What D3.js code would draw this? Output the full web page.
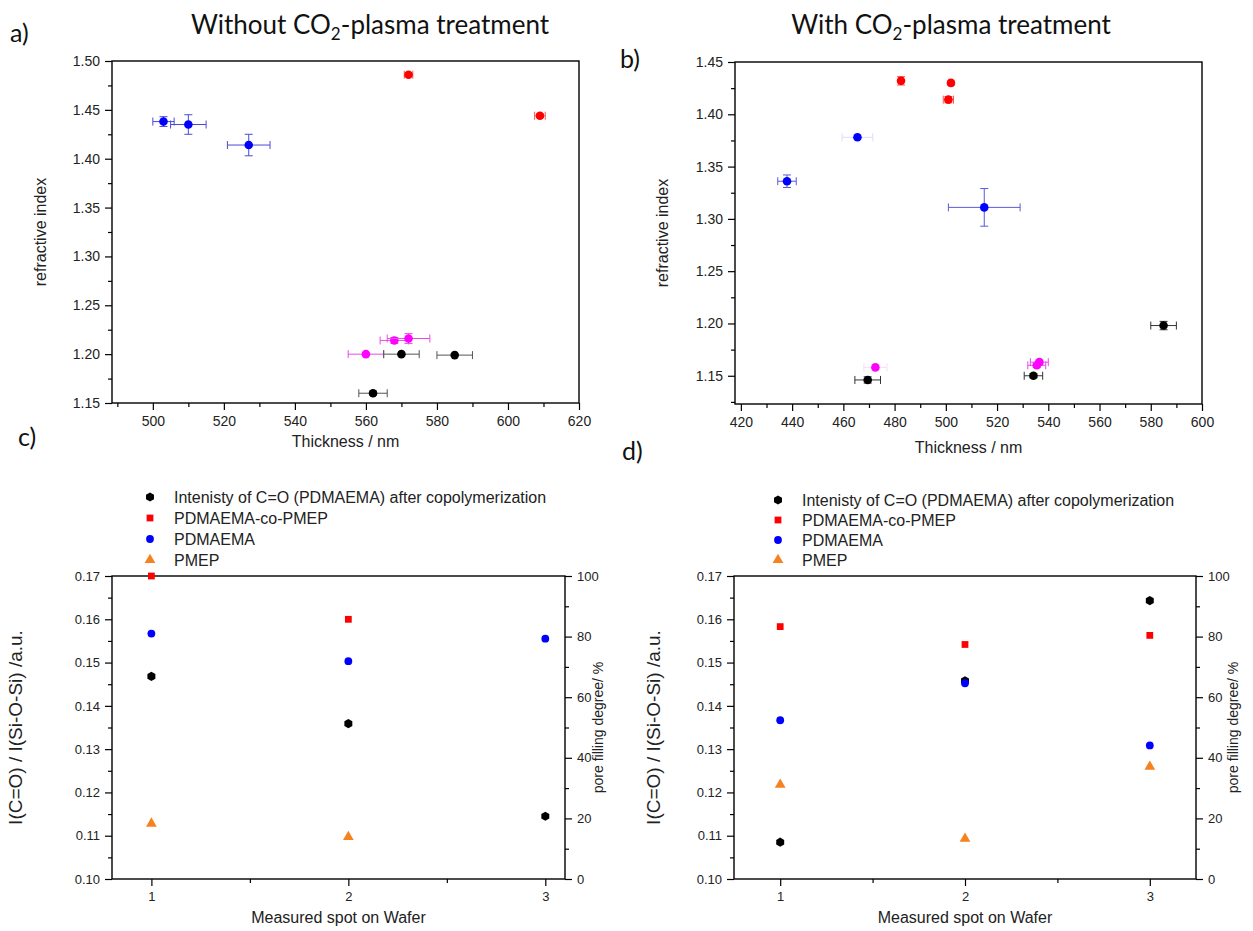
<!DOCTYPE html>
<html>
<head>
<meta charset="utf-8">
<script src="https://cdn.jsdelivr.net/npm/d3@7"></script>
<style>
  body { margin: 0; background: #fff; }
</style>
</head>
<body>
<svg id="fig" width="1253" height="931"></svg>
<script>
// panel a (without CO2 plasma): [thickness nm, refractive index, x error, y error]
const aRed = [[572, 1.486, 1.2, 0.002], [609, 1.444, 1.5, 0.002]];
const aBlue = [[503, 1.438, 3, 0.005], [510, 1.435, 5, 0.010], [527, 1.414, 6, 0.011]];
const aMagenta = [[560, 1.200, 5, 0], [568, 1.214, 4, 0.003], [572, 1.216, 6, 0.005]];
const aBlack = [[570, 1.200, 5, 0], [585, 1.199, 5, 0], [562, 1.160, 4, 0.002]];

// panel b (with CO2 plasma)
const bRed = [[482.5, 1.432, 1, 0.004], [502, 1.430, 0.8, 0.002], [501, 1.414, 2, 0.003]];
const bBlue = [[438, 1.336, 3.6, 0.006], [465.5, 1.378, 6, 0], [515, 1.311, 14, 0.018]];
const bMagenta = [[472.5, 1.158, 4.5, 0], [535.5, 1.160, 3.5, 0.002], [536.5, 1.163, 3.5, 0.002]];
const bBlack = [[469.5, 1.146, 5, 0.003], [534.2, 1.150, 3.6, 0.002], [585, 1.198, 5, 0.004]];

// panels c/d: measured spots, IR intensity ratio (left axis) and pore filling % (right axis)
const spots = [1, 2, 3];
const cIntensity = [0.1468, 0.1359, 0.1145];
const cCopolymer = [100, 85.7, null];
const cPdmaema = [81.0, 71.9, 79.3];
const cPmep = [18.3, 13.9, null];

const dIntensity = [0.1085, 0.1458, 0.1643];
const dCopolymer = [83.3, 77.4, 80.4];
const dPdmaema = [52.4, 64.6, 44.1];
const dPmep = [31.1, 13.3, 37.1];

const legendLabels = [
  "Intenisty of C=O (PDMAEMA) after copolymerization",
  "PDMAEMA-co-PMEP",
  "PDMAEMA",
  "PMEP",
];

const arial = "'Liberation Sans', Arial, sans-serif";
const calibri = "Lato, 'Open Sans', sans-serif";
const orange = "#f5821f";

const svg = d3.select("#fig");

function styleAxis(g, size) {
  g.select(".domain").remove();
  g.attr("font-family", arial).attr("font-size", size || 14);
  g.selectAll("line").attr("stroke", "#000").attr("stroke-width", 1.2);
  g.selectAll("text").attr("fill", "#222");
}

function range(a, b, step) {
  const out = [];
  for (let v = a; v <= b + step / 1000; v += step) out.push(+v.toFixed(4));
  return out;
}

// scatter panel with error bars (a, b)
function scatterPanel(p) {
  const x = d3.scaleLinear().domain(p.xDomain).range([p.left, p.right]);
  const y = d3.scaleLinear().domain(p.yDomain).range([p.bottom, p.top]);
  const g = svg.append("g");

  g.append("g")
    .attr("transform", `translate(0,${p.bottom})`)
    .call(d3.axisBottom(x).tickValues(p.xMinor).tickSize(4).tickFormat(""))
    .call(styleAxis);
  g.append("g")
    .attr("transform", `translate(0,${p.bottom})`)
    .call(d3.axisBottom(x).tickValues(p.xTicks).tickSize(7).tickPadding(6).tickFormat(d3.format("d")))
    .call(styleAxis);
  g.append("g")
    .attr("transform", `translate(${p.left},0)`)
    .call(d3.axisLeft(y).tickValues(p.yMinor).tickSize(4).tickFormat(""))
    .call(styleAxis);
  g.append("g")
    .attr("transform", `translate(${p.left},0)`)
    .call(d3.axisLeft(y).tickValues(p.yTicks).tickSize(7).tickPadding(5).tickFormat(d3.format(".2f")))
    .call(styleAxis);

  g.append("rect")
    .attr("x", p.left).attr("y", p.top)
    .attr("width", p.right - p.left).attr("height", p.bottom - p.top)
    .attr("fill", "none").attr("stroke", "#000").attr("stroke-width", 1.4);

  p.series.forEach((s) => {
    const sg = g.append("g");
    s.data.forEach(([vx, vy, dx, dy], i) => {
      const cx = x(vx), cy = y(vy);
      const bars = sg.append("g")
        .attr("stroke", s.err).attr("stroke-width", 1).attr("fill", "none")
        .attr("opacity", (s.faint || []).includes(i) ? 0.2 : 1);
      if (dx > 0) {
        const x0 = x(vx - dx), x1 = x(vx + dx);
        bars.append("line").attr("x1", x0).attr("x2", x1).attr("y1", cy).attr("y2", cy);
        bars.append("line").attr("x1", x0).attr("x2", x0).attr("y1", cy - 4).attr("y2", cy + 4);
        bars.append("line").attr("x1", x1).attr("x2", x1).attr("y1", cy - 4).attr("y2", cy + 4);
      }
      if (dy > 0) {
        const y0 = y(vy - dy), y1 = y(vy + dy);
        bars.append("line").attr("x1", cx).attr("x2", cx).attr("y1", y0).attr("y2", y1);
        bars.append("line").attr("x1", cx - 4).attr("x2", cx + 4).attr("y1", y0).attr("y2", y0);
        bars.append("line").attr("x1", cx - 4).attr("x2", cx + 4).attr("y1", y1).attr("y2", y1);
      }
      sg.append("circle").attr("cx", cx).attr("cy", cy).attr("r", 4.3).attr("fill", s.color);
    });
  });

  g.append("text")
    .attr("x", (p.left + p.right) / 2).attr("y", p.xLabelY)
    .attr("text-anchor", "middle").attr("font-family", arial).attr("font-size", 16).attr("fill", "#222")
    .text("Thickness / nm");
  g.append("text")
    .attr("transform", `translate(${p.yLabelX},${(p.top + p.bottom) / 2}) rotate(-90)`)
    .attr("text-anchor", "middle").attr("font-family", arial).attr("font-size", 16).attr("fill", "#222")
    .text("refractive index");

  const t = g.append("text")
    .attr("x", p.titleX).attr("y", 34)
    .attr("text-anchor", "middle").attr("font-family", calibri).attr("font-size", 26).attr("fill", "#111");
  t.append("tspan").text(p.titlePre + "CO");
  t.append("tspan").attr("font-size", 17).attr("dy", 6).text("2");
  t.append("tspan").attr("dy", -6).text("-plasma treatment");
}

function hexagon(r) {
  return d3.range(6).map((i) => {
    const a = Math.PI / 6 + (i * Math.PI) / 3;
    return [r * Math.cos(a), r * Math.sin(a)];
  });
}

function marker(sel, kind, color) {
  if (kind === "hex") {
    sel.append("path").attr("d", "M" + hexagon(4.6).join("L") + "Z").attr("fill", color);
  } else if (kind === "square") {
    sel.append("path").attr("d", d3.symbol(d3.symbolSquare, 46)()).attr("fill", color);
  } else if (kind === "circle") {
    sel.append("circle").attr("r", 3.9).attr("fill", color);
  } else {
    sel.append("path").attr("d", d3.symbol(d3.symbolTriangle, 50)()).attr("fill", color);
  }
}

// IR intensity / pore filling panel (c, d)
function irPanel(p) {
  const x = d3.scaleLinear().domain(p.xDomain).range([p.left, p.right]);
  const y = d3.scaleLinear().domain([0.10, 0.17]).range([p.bottom, p.top]);
  const y2 = d3.scaleLinear().domain([0, 100]).range([p.bottom, p.top]);
  const g = svg.append("g");

  g.append("g").attr("transform", `translate(0,${p.bottom})`)
    .call(d3.axisBottom(x).tickValues([1.5, 2.5]).tickSize(4).tickFormat(""))
    .call(styleAxis);
  g.append("g").attr("transform", `translate(0,${p.bottom})`)
    .call(d3.axisBottom(x).tickValues(spots).tickSize(7).tickPadding(6).tickFormat(d3.format("d")))
    .call(styleAxis, 13);
  g.append("g").attr("transform", `translate(${p.left},0)`)
    .call(d3.axisLeft(y).tickValues(range(0.105, 0.165, 0.01)).tickSize(4).tickFormat(""))
    .call(styleAxis);
  g.append("g").attr("transform", `translate(${p.left},0)`)
    .call(d3.axisLeft(y).tickValues(range(0.10, 0.17, 0.01)).tickSize(7).tickPadding(5).tickFormat(d3.format(".2f")))
    .call(styleAxis, 13);
  g.append("g").attr("transform", `translate(${p.right},0)`)
    .call(d3.axisRight(y2).tickValues(range(10, 90, 20)).tickSize(4).tickFormat(""))
    .call(styleAxis);
  g.append("g").attr("transform", `translate(${p.right},0)`)
    .call(d3.axisRight(y2).tickValues(range(0, 100, 20)).tickSize(7).tickPadding(5).tickFormat(d3.format("d")))
    .call(styleAxis, 13);

  g.append("rect")
    .attr("x", p.left).attr("y", p.top)
    .attr("width", p.right - p.left).attr("height", p.bottom - p.top)
    .attr("fill", "none").attr("stroke", "#000").attr("stroke-width", 1.4);

  const series = [
    { kind: "hex", color: "#000", values: p.intensity, scale: y },
    { kind: "square", color: "#f00", values: p.copolymer, scale: y2 },
    { kind: "circle", color: "#00f", values: p.pdmaema, scale: y2 },
    { kind: "tri", color: orange, values: p.pmep, scale: y2 },
  ];

  series.forEach((s) => {
    spots.forEach((spot, i) => {
      const v = s.values[i];
      if (v == null) return;
      marker(g.append("g").attr("transform", `translate(${x(spot)},${s.scale(v)})`), s.kind, s.color);
    });
  });

  // legend above the plot
  series.forEach((s, i) => {
    const ly = p.legendY + i * p.legendStep;
    marker(g.append("g").attr("transform", `translate(${p.legendX},${ly})`), s.kind, s.color);
    g.append("text")
      .attr("x", p.legendX + 24).attr("y", ly + 5.5)
      .attr("font-family", arial).attr("font-size", 16).attr("fill", "#222")
      .text(legendLabels[i]);
  });

  g.append("text")
    .attr("x", (p.left + p.right) / 2).attr("y", p.bottom + 44)
    .attr("text-anchor", "middle").attr("font-family", arial).attr("font-size", 16).attr("fill", "#222")
    .text("Measured spot on Wafer");
  g.append("text")
    .attr("transform", `translate(${p.yLabelX},${(p.top + p.bottom) / 2}) rotate(-90)`)
    .attr("text-anchor", "middle").attr("font-family", arial).attr("font-size", 19).attr("fill", "#222")
    .text("I(C=O) / I(Si-O-Si) /a.u.");
  g.append("text")
    .attr("transform", `translate(${p.y2LabelX},${(p.top + p.bottom) / 2}) rotate(-90)`)
    .attr("text-anchor", "middle").attr("font-family", arial).attr("font-size", 14).attr("fill", "#222")
    .text("pore filling degree/ %");
}

scatterPanel({
  left: 112, right: 579, top: 61, bottom: 403,
  xDomain: [488.5, 620], yDomain: [1.15, 1.50],
  xTicks: range(500, 620, 20), xMinor: range(490, 610, 20),
  yTicks: range(1.15, 1.50, 0.05), yMinor: range(1.175, 1.475, 0.05),
  series: [
    { data: aRed, color: "#f00", err: "#f55" },
    { data: aBlue, color: "#00f", err: "#4b4bd6" },
    { data: aMagenta, color: "#f0f", err: "#e64de6" },
    { data: aBlack, color: "#000", err: "#555" },
  ],
  xLabelY: 447, yLabelX: 46, titleX: 370, titlePre: "Without ",
});

scatterPanel({
  left: 735, right: 1202, top: 62, bottom: 404,
  xDomain: [417.7, 600], yDomain: [1.123, 1.45],
  xTicks: range(420, 600, 20), xMinor: range(430, 590, 20),
  yTicks: range(1.15, 1.45, 0.05), yMinor: range(1.125, 1.425, 0.05),
  series: [
    { data: bRed, color: "#f00", err: "#f55" },
    { data: bBlue, color: "#00f", err: "#5a5ad8", faint: [1] },
    { data: bMagenta, color: "#f0f", err: "#e64de6", faint: [0] },
    { data: bBlack, color: "#000", err: "#333" },
  ],
  xLabelY: 453, yLabelX: 668, titleX: 951, titlePre: "With ",
});

irPanel({
  left: 112, right: 565, top: 576, bottom: 879, xDomain: [0.8, 3.1],
  intensity: cIntensity, copolymer: cCopolymer, pdmaema: cPdmaema, pmep: cPmep,
  legendX: 150, legendY: 497, legendStep: 21,
  yLabelX: 22, y2LabelX: 603,
});

irPanel({
  left: 734, right: 1196, top: 576, bottom: 879, xDomain: [0.75, 3.25],
  intensity: dIntensity, copolymer: dCopolymer, pdmaema: dPdmaema, pmep: dPmep,
  legendX: 778, legendY: 500, legendStep: 20,
  yLabelX: 660, y2LabelX: 1238,
});

// panel letters
[["a)", 10, 42], ["b)", 620, 68], ["c)", 18, 446], ["d)", 622, 460]].forEach(([t, lx, ly]) => {
  svg.append("text").attr("x", lx).attr("y", ly)
    .attr("font-family", calibri).attr("font-size", 25).attr("fill", "#111").text(t);
});
</script>
</body>
</html>
